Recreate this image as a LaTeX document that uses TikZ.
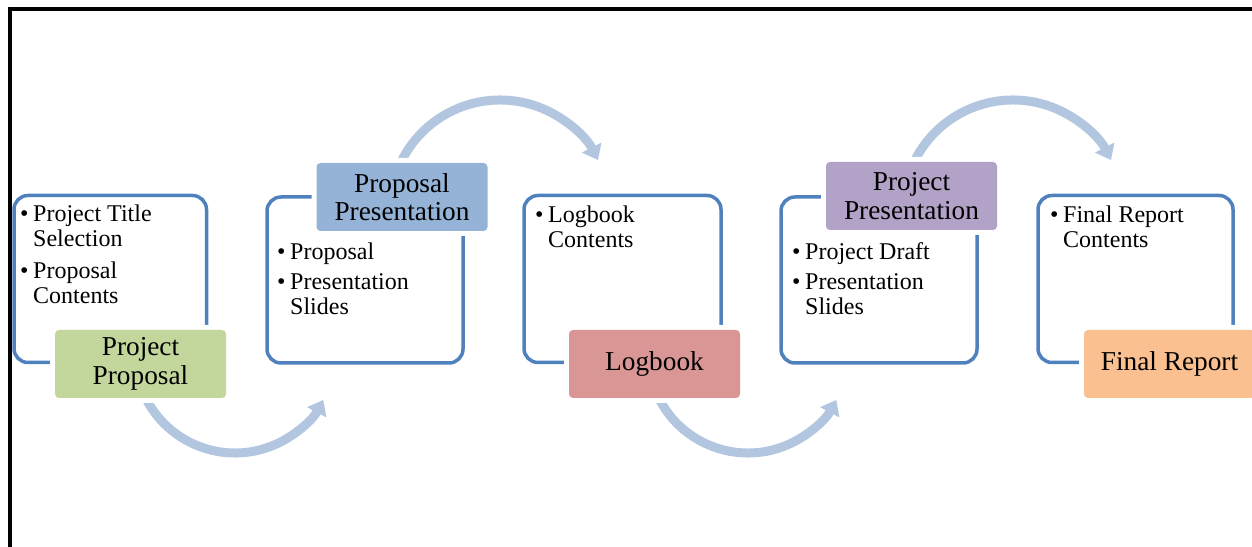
\documentclass[tikz,border=0pt]{standalone}
\usepackage{fontspec}
\setmainfont{Liberation Serif}
\usetikzlibrary{arrows.meta}

\definecolor{outlineblue}{HTML}{4F81BD}
\definecolor{flowblue}{HTML}{B3C6E0}
\definecolor{stagegreen}{HTML}{C3D69B}
\definecolor{stageblue}{HTML}{95B3D7}
\definecolor{stagered}{HTML}{D99694}
\definecolor{stagepurple}{HTML}{B3A2C7}
\definecolor{stageorange}{HTML}{FAC090}

% bullet marker and hanging indent for the item lists
\newcommand\bitem{\makebox[13pt][l]{•}}
\newcommand\bcont{\hspace*{13pt}}

\tikzset{
  stagebox/.style={draw=outlineblue, line width=3.5pt, rounded corners=14pt, inner sep=0pt},
  stagelabel/.style={rounded corners=4pt, inner sep=0pt, minimum width=171pt,
    minimum height=68pt, align=center, font=\fontsize{27.3}{28.5}\selectfont,
    preaction={draw=white, line width=10pt}},
  % lists are placed by the baseline of their last line
  bullets/.style={anchor=base west, inner sep=0pt, align=left,
    font=\fontsize{24}{25}\selectfont},
  flow/.style={draw=flowblue, line width=9pt, -{Triangle[width=21pt,length=14pt]}},
}

\begin{document}
\begin{tikzpicture}[x=1pt, y=1pt]
  \useasboundingbox (0,0) rectangle (1252,546);

  % outer frame
  \draw[line width=4.5pt] (10,-5) -- (10,537) -- (1257,537);

  % arc centres of the curved flow arrows
  \coordinate (c1) at (235,193);
  \coordinate (c2) at (500,336);
  \coordinate (c3) at (748,193);
  \coordinate (c4) at (1013,336);

  \draw[flow] ([shift={(206:100)}]c1) arc[start angle=206, end angle=332, radius=100];
  \draw[flow] ([shift={(157:110)}]c2) arc[start angle=157, end angle=27, radius=110];
  \draw[flow] ([shift={(206:100)}]c3) arc[start angle=206, end angle=332, radius=100];
  \draw[flow] ([shift={(157:110)}]c4) arc[start angle=157, end angle=27, radius=110];

  % content frames
  \node[stagebox, minimum width=192.5pt, minimum height=167pt] (b1) at (110.25,267) {};
  \node[stagebox, minimum width=196pt,   minimum height=166pt] (b2) at (365,266) {};
  \node[stagebox, minimum width=197pt,   minimum height=167pt] (b3) at (622.5,267) {};
  \node[stagebox, minimum width=196pt,   minimum height=166pt] (b4) at (879,266) {};
  \node[stagebox, minimum width=195pt,   minimum height=167pt] (b5) at (1135.5,267) {};

  % stage titles
  \node[stagelabel, fill=stagegreen]  (l1) at (140.5,182) {Project\\Proposal};
  \node[stagelabel, fill=stageblue]   (l2) at (402,349)   {Proposal\\Presentation};
  \node[stagelabel, fill=stagered]    (l3) at (654.5,182) {Logbook};
  \node[stagelabel, fill=stagepurple] (l4) at (911.5,350) {Project\\Presentation};
  \node[stagelabel, fill=stageorange] (l5) at (1169.5,182) {Final Report};

  % item lists
  \node[bullets] (t1) at (20,242)
    {\bitem Project Title\\\bcont Selection\\[7pt]\bitem Proposal\\\bcont Contents};
  \node[bullets] (t2) at (277,231)
    {\bitem Proposal\\[5pt]\bitem Presentation\\\bcont Slides};
  \node[bullets] (t3) at (535,298)
    {\bitem Logbook\\\bcont Contents};
  \node[bullets] (t4) at (792,231)
    {\bitem Project Draft\\[5pt]\bitem Presentation\\\bcont Slides};
  \node[bullets] (t5) at (1050,298)
    {\bitem Final Report\\\bcont Contents};
\end{tikzpicture}
\end{document}
